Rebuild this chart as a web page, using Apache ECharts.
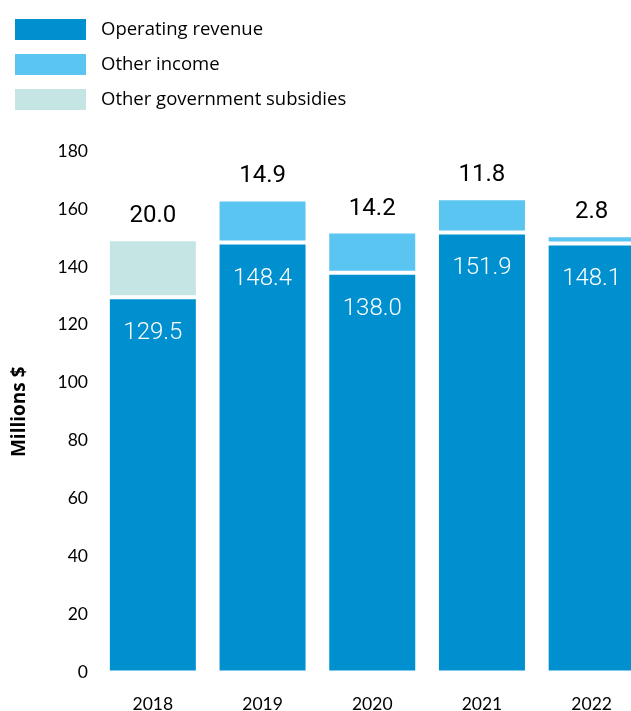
<!DOCTYPE html>
<html>
<head>
<meta charset="utf-8">
<script src="https://cdn.jsdelivr.net/npm/echarts@6/dist/echarts.min.js"></script>
<style>
  html, body { margin: 0; padding: 0; background: #fff; }
  #chart { width: 631px; height: 711px; }
</style>
</head>
<body>
<div id="chart"></div>
<script>
// Revenue breakdown by year, millions of dollars
const years = ['2018', '2019', '2020', '2021', '2022'];
const operatingRevenue = [129.5, 148.4, 138.0, 151.9, 148.1];
const otherIncome = [null, 14.9, 14.2, 11.8, 2.8];
const govSubsidies = [20.0, null, null, null, null];

const seriesNames = ['Operating revenue', 'Other income', 'Other government subsidies'];
const colors = ['#0090d0', '#5bc5f2', '#c5e5e4'];

const axisFont = 'Lato, "Noto Sans", sans-serif';
const legendFont = '"Open Sans", Lato, sans-serif';
const valueFont = 'Roboto, "Noto Sans", sans-serif';

const chart = echarts.init(document.getElementById('chart'), null, { renderer: 'canvas' });

const barBase = {
  type: 'bar',
  stack: 'total',
  barWidth: 90,
  itemStyle: { borderColor: '#ffffff', borderWidth: 2 }
};

const topLabel = {
  show: true,
  position: 'top',
  distance: 11,
  color: '#000',
  fontFamily: valueFont,
  fontSize: 24,
  fontWeight: 400,
  formatter: p => p.value == null ? '' : Number(p.value).toFixed(1)
};

chart.setOption({
  animation: false,
  color: colors,
  legend: {
    orient: 'vertical',
    left: 13,
    top: 17,
    padding: 0,
    itemWidth: 73,
    itemHeight: 23,
    itemGap: 10,
    icon: 'rect',
    data: seriesNames,
    selectedMode: false,
    textStyle: {
      fontFamily: legendFont,
      fontSize: 18.5,
      color: '#000',
      padding: [0, 0, 0, 9]
    }
  },
  grid: {
    left: 98, top: 151, width: 548.5, bottom: 38.5,
    containLabel: false,
    outerBoundsMode: 'none'
  },
  xAxis: {
    type: 'category',
    data: years,
    axisLine: { show: false },
    axisTick: { show: false },
    axisLabel: { color: '#000', fontFamily: axisFont, fontSize: 17.5, margin: 23 }
  },
  yAxis: {
    type: 'value',
    min: 0,
    max: 180,
    interval: 20,
    name: 'Millions $',
    nameLocation: 'middle',
    nameRotate: 90,
    nameGap: 69,
    nameTextStyle: { color: '#000', fontFamily: legendFont, fontSize: 19, fontWeight: 'bold' },
    axisLine: { show: false },
    axisTick: { show: false },
    splitLine: { show: false },
    axisLabel: { color: '#000', fontFamily: axisFont, fontSize: 17.5, margin: 10 }
  },
  series: [
    Object.assign({}, barBase, {
      name: seriesNames[0],
      data: operatingRevenue,
      label: {
        show: true,
        position: 'insideTop',
        distance: 24,
        color: '#fff',
        fontFamily: valueFont,
        fontSize: 24,
        fontWeight: 300,
        formatter: p => Number(p.value).toFixed(1)
      }
    }),
    Object.assign({}, barBase, {
      name: seriesNames[1],
      data: otherIncome,
      label: topLabel
    }),
    Object.assign({}, barBase, {
      name: seriesNames[2],
      data: govSubsidies,
      label: topLabel
    })
  ]
});
</script>
</body>
</html>
